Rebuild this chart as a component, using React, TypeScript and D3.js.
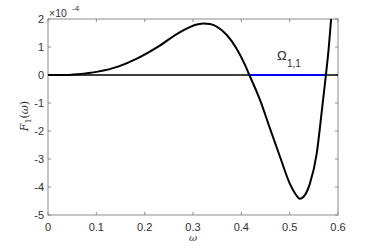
import React from 'react';
import * as d3 from 'd3';

// omega values and F1(omega) in units of 1e-4
const omega = [0, 0.03, 0.062, 0.103, 0.145, 0.186, 0.228, 0.269, 0.31, 0.321, 0.335, 0.349, 0.37, 0.39, 0.4076, 0.4166, 0.4318, 0.4386, 0.459, 0.48, 0.5, 0.512, 0.521, 0.531, 0.542, 0.556, 0.566, 0.575, 0.581, 0.586];
const f1 = [0, 0.0, 0.03, 0.12, 0.3, 0.6, 1.01, 1.49, 1.81, 1.84, 1.82, 1.73, 1.43, 0.95, 0.36, 0, -0.6, -0.89, -1.9, -2.92, -3.87, -4.25, -4.42, -4.3, -3.87, -2.8, -1.36, 0, 1.0, 2.05];
const xTicks = [0, 0.1, 0.2, 0.3, 0.4, 0.5, 0.6];
const yTicks = [2, 1, 0, -1, -2, -3, -4, -5];
const band = [0.4166, 0.575];

const W = 374;
const H = 249;
const left = 48, right = 338, top = 19, bottom = 215;
const axisColor = '#8c8c8c';
const textColor = '#303030';

export default function App() {
  const x = d3.scaleLinear().domain([0, 0.6]).range([left, right]);
  const y = d3.scaleLinear().domain([-5, 2]).range([bottom, top]);

  const pts: [number, number][] = omega.map((o, i) => [o, f1[i]]);
  const line = d3.line<[number, number]>()
    .x(d => x(d[0]))
    .y(d => y(d[1]))
    .curve(d3.curveMonotoneX);

  return (
    <svg width={W} height={H} style={{ position: 'absolute', left: 0, top: 0, fontFamily: 'Liberation Sans, Arial, sans-serif' }}>
      <rect x={0} y={0} width={W} height={H} fill="#fff" />
      <defs>
        <clipPath id="plotArea">
          <rect x={left} y={top} width={right - left} height={bottom - top} />
        </clipPath>
      </defs>

      {/* box */}
      <rect x={left} y={top} width={right - left} height={bottom - top} fill="none" stroke={axisColor} strokeWidth={1} />

      {/* ticks */}
      {xTicks.map(t => (
        <g key={'x' + t}>
          <line x1={x(t)} x2={x(t)} y1={bottom} y2={bottom - 3} stroke={axisColor} />
          <line x1={x(t)} x2={x(t)} y1={top} y2={top + 3} stroke={axisColor} />
          <text x={x(t)} y={231} fontSize={11} textAnchor="middle" fill={textColor}>{t === 0 ? '0' : String(t)}</text>
        </g>
      ))}
      {yTicks.map(t => (
        <g key={'y' + t}>
          <line x1={left} x2={left + 3} y1={y(t)} y2={y(t)} stroke={axisColor} />
          <line x1={right} x2={right - 3} y1={y(t)} y2={y(t)} stroke={axisColor} />
          <text x={44} y={y(t) + 4} fontSize={11} textAnchor="end" fill={textColor}>{t}</text>
        </g>
      ))}

      {/* exponent */}
      <text x={49} y={17} fontSize={10.5} fill={textColor}>×10</text>
      <text x={72} y={11} fontSize={8} fill={textColor}>-4</text>

      <g clipPath="url(#plotArea)">
        <line x1={left} x2={right} y1={y(0)} y2={y(0)} stroke="#000" strokeWidth={1.3} />
        <line x1={x(band[0])} x2={x(band[1])} y1={y(0)} y2={y(0)} stroke="#0000ff" strokeWidth={2} />
        <path d={line(pts) || ''} fill="none" stroke="#000" strokeWidth={2} />
      </g>

      {/* region label */}
      <text x={277} y={60} fontSize={13} fill={textColor}>Ω</text>
      <text x={287} y={67} fontSize={10} fill={textColor}>1,1</text>

      {/* axis labels */}
      <text x={193} y={241} fontSize={10} fontStyle="italic" fontFamily="DejaVu Serif, serif" textAnchor="middle" fill={textColor}>ω</text>
      <g transform={`translate(28, ${116}) rotate(-90)`}>
        <text x={0} y={0} fontSize={11} fontFamily="DejaVu Serif, serif" textAnchor="middle" fill={textColor}>
          <tspan fontStyle="italic">F</tspan>
          <tspan fontSize={8} dy={3}>1</tspan>
          <tspan dy={-3}>(</tspan>
          <tspan fontStyle="italic">ω</tspan>
          <tspan>)</tspan>
        </text>
      </g>
    </svg>
  );
}
